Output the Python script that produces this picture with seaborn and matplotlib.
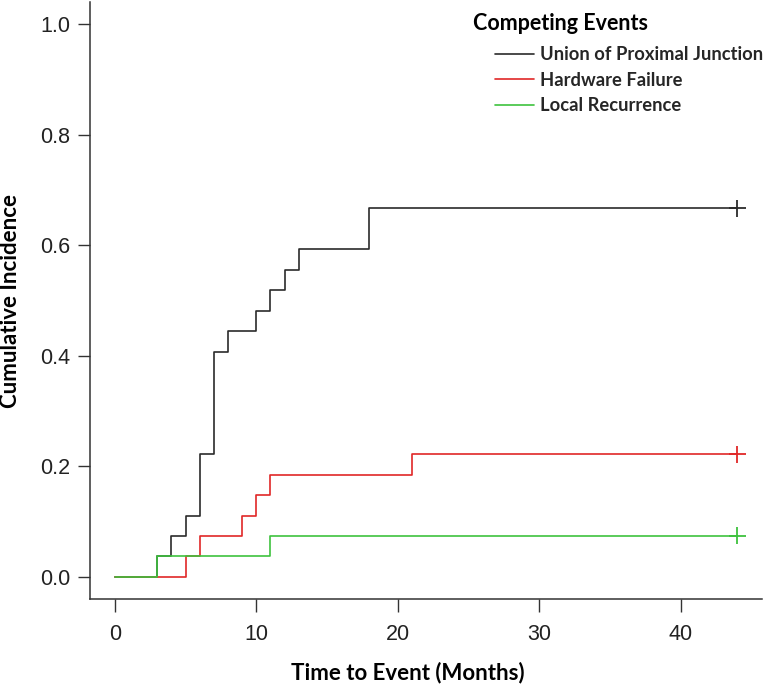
import matplotlib
matplotlib.use("Agg")
import matplotlib.pyplot as plt
import seaborn as sns
import pandas as pd
import numpy as np

# ---- data ----
events = ["Union of Proximal Junction", "Hardware Failure", "Local Recurrence"]
times_union = [0, 3, 4, 5, 6, 7, 8, 10, 11, 12, 13, 18, 44]
cif_union = [0, 0.037, 0.074, 0.111, 0.222, 0.407, 0.444, 0.481, 0.519, 0.556, 0.593, 0.667, 0.667]
times_hw = [0, 5, 6, 9, 10, 11, 21, 44]
cif_hw = [0, 0.037, 0.074, 0.111, 0.148, 0.185, 0.222, 0.222]
times_lr = [0, 3, 11, 44]
cif_lr = [0, 0.037, 0.074, 0.074]
colors = ["#2b2b2b", "#E02828", "#3EC23E"]
x_ticks = [0, 10, 20, 30, 40]
y_ticks = [0.0, 0.2, 0.4, 0.6, 0.8, 1.0]
legend_title = "Competing Events"

frames = []
for ev, t, c in zip(events, [times_union, times_hw, times_lr], [cif_union, cif_hw, cif_lr]):
    frames.append(pd.DataFrame({"time": t, "cif": c, "event": ev}))
df = pd.concat(frames, ignore_index=True)
last = df.groupby("event", sort=False).tail(1)

sns.set_style("ticks")
plt.rcParams["font.family"] = ["Liberation Sans", "DejaVu Sans"]

fig = plt.figure(figsize=(7.74, 6.86), dpi=100)
ax = fig.add_axes([90 / 774, 1 - 599 / 686, (762 - 90) / 774, (599 - 2) / 686])

sns.lineplot(data=df, x="time", y="cif", hue="event", hue_order=events,
             palette=colors, drawstyle="steps-post", estimator=None,
             linewidth=1.2, ax=ax, legend=True)
sns.scatterplot(data=last, x="time", y="cif", hue="event", hue_order=events,
                palette=colors, marker="+", s=150, linewidth=1.3, ax=ax, legend=False)

ax.set_xlim(-1.76, 45.76)
ax.set_ylim(-0.04, 1.04)
ax.set_xticks(x_ticks)
ax.set_xticklabels([str(v) for v in x_ticks])
ax.set_yticks(y_ticks)
ax.set_yticklabels([f"{v:.1f}" for v in y_ticks])
for s in ["top", "right"]:
    ax.spines[s].set_visible(False)
for s in ["left", "bottom"]:
    ax.spines[s].set_color("#333333")
    ax.spines[s].set_linewidth(1.1)
ax.tick_params(axis="both", length=9, width=1.0, color="#333333",
               labelsize=15.5, labelcolor="#222222")
ax.tick_params(axis="x", pad=9)
ax.tick_params(axis="y", pad=5)

lab_font = dict(family=["Lato", "DejaVu Sans"], weight="bold", size=16, color="black")
ax.set_xlabel("Time to Event (Months)", **lab_font)
ax.set_ylabel("Cumulative Incidence", **lab_font)
ax.xaxis.set_label_coords(0.473, -0.105)
ax.yaxis.set_label_coords(-0.1027, 0.5)

handles, labels = ax.get_legend_handles_labels()
leg = ax.legend(handles, labels, frameon=False,
                loc="upper left", bbox_to_anchor=(495 / 774, 1 - 46 / 686),
                bbox_transform=fig.transFigure, borderpad=0, borderaxespad=0,
                handlelength=2.1, handletextpad=0.35, labelspacing=0.47,
                prop=dict(family=["Lato", "DejaVu Sans"], weight="bold", size=13.2))
for h in leg.legend_handles:
    h.set_linewidth(1.2)
fig.text(473 / 774, 1 - 23 / 686, legend_title, ha="left", va="center",
         family=["Lato", "DejaVu Sans"], weight="bold", fontsize=15.5, color="black")

fig.savefig("out.png", dpi=100, facecolor="white")
